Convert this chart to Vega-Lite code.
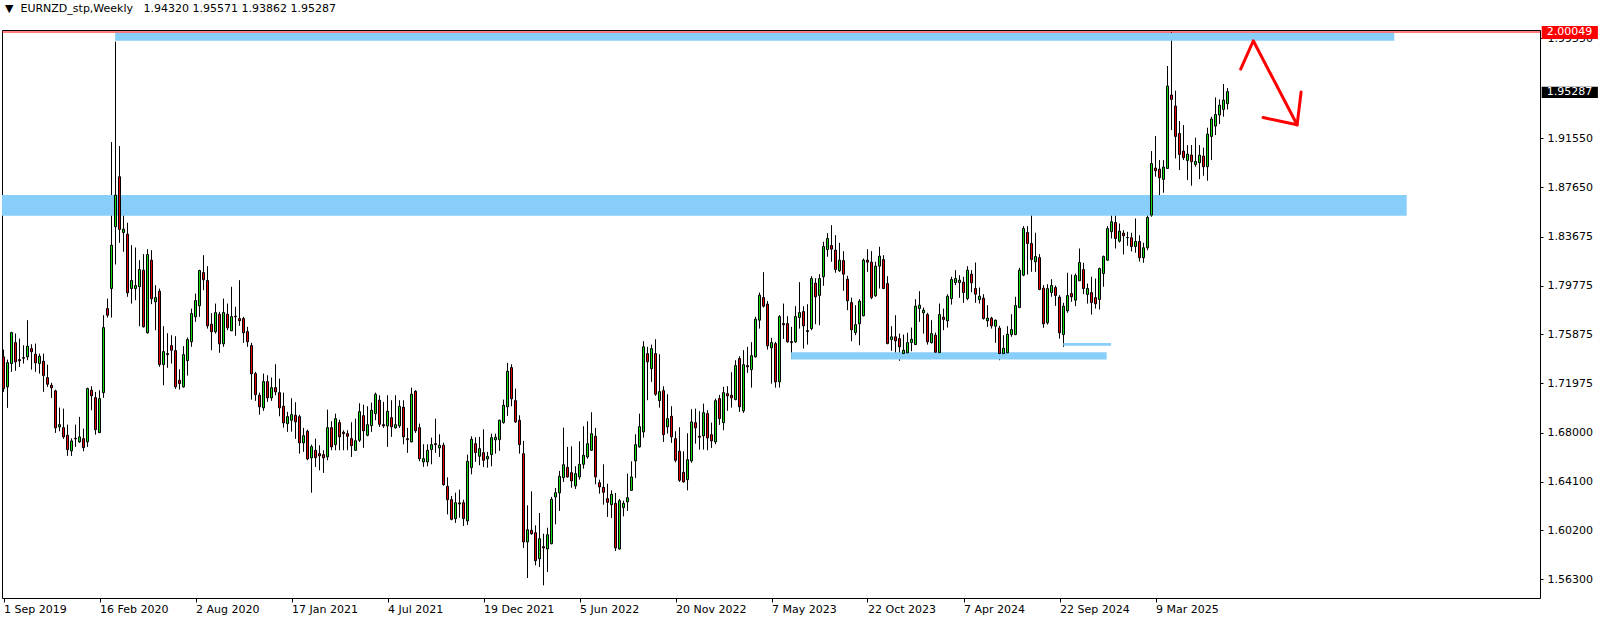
{
"$schema":"https://vega.github.io/schema/vega-lite/v6.json",
"width":1538,"height":568,
"autosize":{"type":"none"},
"padding":{"left":2,"top":30,"right":64,"bottom":24},
"background":"white",
"config":{"view":{"stroke":"black","strokeWidth":1},"font":"DejaVu Sans","scale":{"continuousPadding":0}},
"title":{"text":"▼\u00a0 EURNZD_stp,Weekly\u00a0\u00a0 1.94320 1.95571 1.93862 1.95287","anchor":"start","frame":"group","font":"DejaVu Sans","fontSize":11,"fontWeight":"normal","color":"black","offset":12,"dx":3},
"datasets":{
"candles":[
{"d":"2019-09-01","o":1.7408,"h":1.7466,"l":1.7128,"c":1.7154},
{"d":"2019-09-08","o":1.7168,"h":1.7386,"l":1.7000,"c":1.7362},
{"d":"2019-09-15","o":1.7354,"h":1.7608,"l":1.7288,"c":1.7602},
{"d":"2019-09-22","o":1.7522,"h":1.7594,"l":1.7296,"c":1.7368},
{"d":"2019-09-29","o":1.7386,"h":1.7554,"l":1.7328,"c":1.7376},
{"d":"2019-10-06","o":1.7402,"h":1.7501,"l":1.7354,"c":1.7397},
{"d":"2019-10-13","o":1.7408,"h":1.7701,"l":1.7381,"c":1.7493},
{"d":"2019-10-20","o":1.7474,"h":1.7509,"l":1.7306,"c":1.7448},
{"d":"2019-10-27","o":1.7429,"h":1.7514,"l":1.7288,"c":1.7360},
{"d":"2019-11-03","o":1.7354,"h":1.7434,"l":1.7274,"c":1.7413},
{"d":"2019-11-10","o":1.7373,"h":1.7434,"l":1.7128,"c":1.7258},
{"d":"2019-11-17","o":1.7242,"h":1.7346,"l":1.7168,"c":1.7189},
{"d":"2019-11-24","o":1.7181,"h":1.7200,"l":1.7080,"c":1.7160},
{"d":"2019-12-01","o":1.7136,"h":1.7146,"l":1.6800,"c":1.6840},
{"d":"2019-12-08","o":1.6848,"h":1.7002,"l":1.6813,"c":1.6866},
{"d":"2019-12-15","o":1.6842,"h":1.6994,"l":1.6752,"c":1.6768},
{"d":"2019-12-22","o":1.6781,"h":1.6866,"l":1.6616,"c":1.6666},
{"d":"2019-12-29","o":1.6656,"h":1.6757,"l":1.6616,"c":1.6736},
{"d":"2020-01-05","o":1.6757,"h":1.6866,"l":1.6688,"c":1.6752},
{"d":"2020-01-12","o":1.6728,"h":1.6928,"l":1.6720,"c":1.6768},
{"d":"2020-01-19","o":1.6754,"h":1.6834,"l":1.6653,"c":1.6682},
{"d":"2020-01-26","o":1.6728,"h":1.7162,"l":1.6688,"c":1.7154},
{"d":"2020-02-02","o":1.7141,"h":1.7173,"l":1.6981,"c":1.7096},
{"d":"2020-02-09","o":1.7082,"h":1.7128,"l":1.6786,"c":1.6826},
{"d":"2020-02-16","o":1.6802,"h":1.7141,"l":1.6800,"c":1.7074},
{"d":"2020-02-23","o":1.7122,"h":1.7741,"l":1.7080,"c":1.7642},
{"d":"2020-03-01","o":1.7794,"h":1.7874,"l":1.7722,"c":1.7741},
{"d":"2020-03-08","o":1.7954,"h":1.9125,"l":1.7722,"c":1.8301},
{"d":"2020-03-15","o":1.8448,"h":1.9928,"l":1.8146,"c":1.8701},
{"d":"2020-03-22","o":1.8848,"h":1.9093,"l":1.8320,"c":1.8426},
{"d":"2020-03-29","o":1.8402,"h":1.8629,"l":1.8248,"c":1.8429},
{"d":"2020-04-05","o":1.8389,"h":1.8480,"l":1.7888,"c":1.7920},
{"d":"2020-04-12","o":1.7954,"h":1.8301,"l":1.7834,"c":1.8018},
{"d":"2020-04-19","o":1.7954,"h":1.8282,"l":1.7861,"c":1.7978},
{"d":"2020-04-26","o":1.7968,"h":1.8181,"l":1.7653,"c":1.8106},
{"d":"2020-05-03","o":1.8101,"h":1.8229,"l":1.7642,"c":1.7648},
{"d":"2020-05-10","o":1.7600,"h":1.8269,"l":1.7594,"c":1.8226},
{"d":"2020-05-17","o":1.8181,"h":1.8261,"l":1.7829,"c":1.7872},
{"d":"2020-05-24","o":1.7848,"h":1.7981,"l":1.7621,"c":1.7882},
{"d":"2020-05-31","o":1.7933,"h":1.7954,"l":1.7328,"c":1.7346},
{"d":"2020-06-07","o":1.7346,"h":1.7653,"l":1.7181,"c":1.7450},
{"d":"2020-06-14","o":1.7434,"h":1.7597,"l":1.7320,"c":1.7426},
{"d":"2020-06-21","o":1.7498,"h":1.7581,"l":1.7354,"c":1.7461},
{"d":"2020-06-28","o":1.7458,"h":1.7573,"l":1.7152,"c":1.7168},
{"d":"2020-07-05","o":1.7221,"h":1.7309,"l":1.7146,"c":1.7194},
{"d":"2020-07-12","o":1.7168,"h":1.7493,"l":1.7162,"c":1.7426},
{"d":"2020-07-19","o":1.7378,"h":1.7562,"l":1.7258,"c":1.7546},
{"d":"2020-07-26","o":1.7528,"h":1.7794,"l":1.7488,"c":1.7754},
{"d":"2020-08-02","o":1.7728,"h":1.7914,"l":1.7688,"c":1.7858},
{"d":"2020-08-09","o":1.7816,"h":1.8104,"l":1.7728,"c":1.8098},
{"d":"2020-08-16","o":1.8082,"h":1.8221,"l":1.7941,"c":1.8024},
{"d":"2020-08-23","o":1.8018,"h":1.8133,"l":1.7634,"c":1.7656},
{"d":"2020-08-30","o":1.7669,"h":1.7757,"l":1.7461,"c":1.7608},
{"d":"2020-09-06","o":1.7608,"h":1.7834,"l":1.7594,"c":1.7762},
{"d":"2020-09-13","o":1.7749,"h":1.7768,"l":1.7440,"c":1.7512},
{"d":"2020-09-20","o":1.7512,"h":1.7874,"l":1.7488,"c":1.7762},
{"d":"2020-09-27","o":1.7749,"h":1.7834,"l":1.7621,"c":1.7640},
{"d":"2020-10-04","o":1.7616,"h":1.7968,"l":1.7616,"c":1.7730},
{"d":"2020-10-11","o":1.7733,"h":1.7808,"l":1.7576,"c":1.7728},
{"d":"2020-10-18","o":1.7714,"h":1.8021,"l":1.7656,"c":1.7696},
{"d":"2020-10-25","o":1.7714,"h":1.7728,"l":1.7520,"c":1.7600},
{"d":"2020-11-01","o":1.7610,"h":1.7648,"l":1.7488,"c":1.7528},
{"d":"2020-11-08","o":1.7498,"h":1.7520,"l":1.7066,"c":1.7272},
{"d":"2020-11-15","o":1.7274,"h":1.7288,"l":1.7056,"c":1.7106},
{"d":"2020-11-22","o":1.7101,"h":1.7122,"l":1.6946,"c":1.7008},
{"d":"2020-11-29","o":1.7000,"h":1.7274,"l":1.6976,"c":1.7210},
{"d":"2020-12-06","o":1.7210,"h":1.7261,"l":1.7048,"c":1.7080},
{"d":"2020-12-13","o":1.7080,"h":1.7242,"l":1.7056,"c":1.7162},
{"d":"2020-12-20","o":1.7162,"h":1.7349,"l":1.7101,"c":1.7128},
{"d":"2020-12-27","o":1.7122,"h":1.7234,"l":1.6933,"c":1.7000},
{"d":"2021-01-03","o":1.7013,"h":1.7122,"l":1.6842,"c":1.6880},
{"d":"2021-01-10","o":1.6874,"h":1.6968,"l":1.6808,"c":1.6930},
{"d":"2021-01-17","o":1.6901,"h":1.7077,"l":1.6810,"c":1.6946},
{"d":"2021-01-24","o":1.6941,"h":1.7045,"l":1.6752,"c":1.6888},
{"d":"2021-01-31","o":1.6930,"h":1.6946,"l":1.6634,"c":1.6720},
{"d":"2021-02-07","o":1.6720,"h":1.6840,"l":1.6648,"c":1.6778},
{"d":"2021-02-14","o":1.6813,"h":1.6826,"l":1.6581,"c":1.6592},
{"d":"2021-02-21","o":1.6600,"h":1.6706,"l":1.6322,"c":1.6690},
{"d":"2021-02-28","o":1.6661,"h":1.6754,"l":1.6528,"c":1.6602},
{"d":"2021-03-07","o":1.6634,"h":1.6701,"l":1.6501,"c":1.6616},
{"d":"2021-03-14","o":1.6626,"h":1.6661,"l":1.6480,"c":1.6600},
{"d":"2021-03-21","o":1.6608,"h":1.6986,"l":1.6581,"c":1.6842},
{"d":"2021-03-28","o":1.6842,"h":1.6893,"l":1.6661,"c":1.6688},
{"d":"2021-04-04","o":1.6706,"h":1.6954,"l":1.6661,"c":1.6914},
{"d":"2021-04-11","o":1.6882,"h":1.6906,"l":1.6661,"c":1.6768},
{"d":"2021-04-18","o":1.6805,"h":1.6821,"l":1.6661,"c":1.6794},
{"d":"2021-04-25","o":1.6794,"h":1.6821,"l":1.6661,"c":1.6773},
{"d":"2021-05-02","o":1.6754,"h":1.6885,"l":1.6608,"c":1.6698},
{"d":"2021-05-09","o":1.6661,"h":1.6914,"l":1.6656,"c":1.6738},
{"d":"2021-05-16","o":1.6741,"h":1.7037,"l":1.6728,"c":1.6970},
{"d":"2021-05-23","o":1.6938,"h":1.7026,"l":1.6680,"c":1.6816},
{"d":"2021-05-30","o":1.6781,"h":1.7013,"l":1.6773,"c":1.6866},
{"d":"2021-06-06","o":1.6858,"h":1.7042,"l":1.6808,"c":1.6981},
{"d":"2021-06-13","o":1.6954,"h":1.7122,"l":1.6901,"c":1.7109},
{"d":"2021-06-20","o":1.7061,"h":1.7101,"l":1.6848,"c":1.6869},
{"d":"2021-06-27","o":1.6866,"h":1.7048,"l":1.6840,"c":1.6856},
{"d":"2021-07-04","o":1.6856,"h":1.7101,"l":1.6688,"c":1.6973},
{"d":"2021-07-11","o":1.6922,"h":1.7061,"l":1.6768,"c":1.6848},
{"d":"2021-07-18","o":1.6840,"h":1.7101,"l":1.6834,"c":1.6866},
{"d":"2021-07-25","o":1.6856,"h":1.7061,"l":1.6840,"c":1.7013},
{"d":"2021-08-01","o":1.7005,"h":1.7061,"l":1.6709,"c":1.6768},
{"d":"2021-08-08","o":1.6754,"h":1.6840,"l":1.6640,"c":1.6746},
{"d":"2021-08-15","o":1.6728,"h":1.7162,"l":1.6725,"c":1.7109},
{"d":"2021-08-22","o":1.7133,"h":1.7141,"l":1.6800,"c":1.6816},
{"d":"2021-08-29","o":1.6842,"h":1.6874,"l":1.6573,"c":1.6594},
{"d":"2021-09-05","o":1.6568,"h":1.6709,"l":1.6528,"c":1.6594},
{"d":"2021-09-12","o":1.6568,"h":1.6709,"l":1.6533,"c":1.6661},
{"d":"2021-09-19","o":1.6666,"h":1.6762,"l":1.6549,"c":1.6706},
{"d":"2021-09-26","o":1.6714,"h":1.6914,"l":1.6640,"c":1.6706},
{"d":"2021-10-03","o":1.6680,"h":1.6789,"l":1.6608,"c":1.6701},
{"d":"2021-10-10","o":1.6701,"h":1.6722,"l":1.6378,"c":1.6386},
{"d":"2021-10-17","o":1.6373,"h":1.6445,"l":1.6149,"c":1.6266},
{"d":"2021-10-24","o":1.6266,"h":1.6296,"l":1.6101,"c":1.6109},
{"d":"2021-10-31","o":1.6114,"h":1.6322,"l":1.6080,"c":1.6242},
{"d":"2021-11-07","o":1.6240,"h":1.6346,"l":1.6122,"c":1.6232},
{"d":"2021-11-14","o":1.6242,"h":1.6266,"l":1.6056,"c":1.6114},
{"d":"2021-11-21","o":1.6096,"h":1.6626,"l":1.6064,"c":1.6573},
{"d":"2021-11-28","o":1.6522,"h":1.6773,"l":1.6469,"c":1.6749},
{"d":"2021-12-05","o":1.6714,"h":1.6765,"l":1.6568,"c":1.6642},
{"d":"2021-12-12","o":1.6613,"h":1.6768,"l":1.6541,"c":1.6674},
{"d":"2021-12-19","o":1.6642,"h":1.6829,"l":1.6528,"c":1.6581},
{"d":"2021-12-26","o":1.6592,"h":1.6648,"l":1.6522,"c":1.6613},
{"d":"2022-01-02","o":1.6626,"h":1.6794,"l":1.6533,"c":1.6762},
{"d":"2022-01-09","o":1.6744,"h":1.6794,"l":1.6634,"c":1.6765},
{"d":"2022-01-16","o":1.6746,"h":1.6906,"l":1.6656,"c":1.6901},
{"d":"2022-01-23","o":1.6882,"h":1.7066,"l":1.6874,"c":1.7021},
{"d":"2022-01-30","o":1.7008,"h":1.7360,"l":1.6936,"c":1.7293},
{"d":"2022-02-06","o":1.7322,"h":1.7349,"l":1.7013,"c":1.7072},
{"d":"2022-02-13","o":1.7058,"h":1.7154,"l":1.6880,"c":1.6888},
{"d":"2022-02-20","o":1.6901,"h":1.6941,"l":1.6634,"c":1.6706},
{"d":"2022-02-27","o":1.6634,"h":1.6736,"l":1.5880,"c":1.5928},
{"d":"2022-03-06","o":1.5928,"h":1.6221,"l":1.5640,"c":1.6026},
{"d":"2022-03-13","o":1.6021,"h":1.6333,"l":1.5986,"c":1.5994},
{"d":"2022-03-20","o":1.6002,"h":1.6061,"l":1.5741,"c":1.5778},
{"d":"2022-03-27","o":1.5794,"h":1.6160,"l":1.5728,"c":1.5954},
{"d":"2022-04-03","o":1.5890,"h":1.5994,"l":1.5581,"c":1.5880},
{"d":"2022-04-10","o":1.5872,"h":1.6042,"l":1.5688,"c":1.5986},
{"d":"2022-04-17","o":1.5914,"h":1.6288,"l":1.5909,"c":1.6269},
{"d":"2022-04-24","o":1.6288,"h":1.6360,"l":1.6069,"c":1.6322},
{"d":"2022-05-01","o":1.6320,"h":1.6496,"l":1.6176,"c":1.6453},
{"d":"2022-05-08","o":1.6442,"h":1.6842,"l":1.6408,"c":1.6546},
{"d":"2022-05-15","o":1.6525,"h":1.6688,"l":1.6442,"c":1.6448},
{"d":"2022-05-22","o":1.6482,"h":1.6693,"l":1.6362,"c":1.6416},
{"d":"2022-05-29","o":1.6376,"h":1.6533,"l":1.6352,"c":1.6474},
{"d":"2022-06-05","o":1.6448,"h":1.6733,"l":1.6426,"c":1.6549},
{"d":"2022-06-12","o":1.6549,"h":1.6853,"l":1.6514,"c":1.6621},
{"d":"2022-06-19","o":1.6608,"h":1.6893,"l":1.6594,"c":1.6714},
{"d":"2022-06-26","o":1.6661,"h":1.6965,"l":1.6656,"c":1.6794},
{"d":"2022-07-03","o":1.6773,"h":1.6840,"l":1.6389,"c":1.6448},
{"d":"2022-07-10","o":1.6402,"h":1.6426,"l":1.6314,"c":1.6368},
{"d":"2022-07-17","o":1.6365,"h":1.6549,"l":1.6226,"c":1.6325},
{"d":"2022-07-24","o":1.6274,"h":1.6394,"l":1.6128,"c":1.6245},
{"d":"2022-07-31","o":1.6226,"h":1.6341,"l":1.6120,"c":1.6309},
{"d":"2022-08-07","o":1.6237,"h":1.6320,"l":1.5856,"c":1.5880},
{"d":"2022-08-14","o":1.5872,"h":1.6272,"l":1.5866,"c":1.6258},
{"d":"2022-08-21","o":1.6202,"h":1.6258,"l":1.6133,"c":1.6237},
{"d":"2022-08-28","o":1.6248,"h":1.6474,"l":1.6176,"c":1.6282},
{"d":"2022-09-04","o":1.6341,"h":1.6573,"l":1.6336,"c":1.6448},
{"d":"2022-09-11","o":1.6576,"h":1.6789,"l":1.6440,"c":1.6706},
{"d":"2022-09-18","o":1.6688,"h":1.6954,"l":1.6682,"c":1.6850},
{"d":"2022-09-25","o":1.6808,"h":1.7533,"l":1.6762,"c":1.7488},
{"d":"2022-10-02","o":1.7434,"h":1.7488,"l":1.7061,"c":1.7368},
{"d":"2022-10-09","o":1.7314,"h":1.7506,"l":1.7208,"c":1.7474},
{"d":"2022-10-16","o":1.7434,"h":1.7549,"l":1.7096,"c":1.7109},
{"d":"2022-10-23","o":1.7058,"h":1.7429,"l":1.7002,"c":1.7130},
{"d":"2022-10-30","o":1.7138,"h":1.7173,"l":1.6728,"c":1.6786},
{"d":"2022-11-06","o":1.6848,"h":1.7109,"l":1.6794,"c":1.6914},
{"d":"2022-11-13","o":1.6933,"h":1.7013,"l":1.6720,"c":1.6768},
{"d":"2022-11-20","o":1.6754,"h":1.6813,"l":1.6565,"c":1.6581},
{"d":"2022-11-27","o":1.6653,"h":1.6845,"l":1.6408,"c":1.6421},
{"d":"2022-12-04","o":1.6485,"h":1.6653,"l":1.6402,"c":1.6408},
{"d":"2022-12-11","o":1.6426,"h":1.6797,"l":1.6341,"c":1.6586},
{"d":"2022-12-18","o":1.6576,"h":1.6989,"l":1.6562,"c":1.6888},
{"d":"2022-12-25","o":1.6882,"h":1.6994,"l":1.6714,"c":1.6840},
{"d":"2023-01-01","o":1.6773,"h":1.6973,"l":1.6666,"c":1.6765},
{"d":"2023-01-08","o":1.6776,"h":1.7034,"l":1.6666,"c":1.6962},
{"d":"2023-01-15","o":1.6954,"h":1.6981,"l":1.6661,"c":1.6760},
{"d":"2023-01-22","o":1.6786,"h":1.6882,"l":1.6680,"c":1.6736},
{"d":"2023-01-29","o":1.6728,"h":1.7074,"l":1.6709,"c":1.7058},
{"d":"2023-02-05","o":1.7074,"h":1.7104,"l":1.6864,"c":1.6914},
{"d":"2023-02-12","o":1.6882,"h":1.7168,"l":1.6821,"c":1.7122},
{"d":"2023-02-19","o":1.7114,"h":1.7173,"l":1.6976,"c":1.7096},
{"d":"2023-02-26","o":1.7101,"h":1.7285,"l":1.7002,"c":1.7080},
{"d":"2023-03-05","o":1.7066,"h":1.7381,"l":1.7061,"c":1.7338},
{"d":"2023-03-12","o":1.7394,"h":1.7413,"l":1.6968,"c":1.7008},
{"d":"2023-03-19","o":1.6976,"h":1.7461,"l":1.6960,"c":1.7346},
{"d":"2023-03-26","o":1.7338,"h":1.7488,"l":1.7280,"c":1.7328},
{"d":"2023-04-02","o":1.7306,"h":1.7525,"l":1.7162,"c":1.7418},
{"d":"2023-04-09","o":1.7408,"h":1.7728,"l":1.7402,"c":1.7709},
{"d":"2023-04-16","o":1.7701,"h":1.7922,"l":1.7634,"c":1.7901},
{"d":"2023-04-23","o":1.7882,"h":1.8085,"l":1.7802,"c":1.7813},
{"d":"2023-04-30","o":1.7829,"h":1.7853,"l":1.7466,"c":1.7496},
{"d":"2023-05-07","o":1.7480,"h":1.7560,"l":1.7194,"c":1.7522},
{"d":"2023-05-14","o":1.7514,"h":1.7528,"l":1.7162,"c":1.7208},
{"d":"2023-05-21","o":1.7208,"h":1.7741,"l":1.7162,"c":1.7730},
{"d":"2023-05-28","o":1.7674,"h":1.7834,"l":1.7552,"c":1.7664},
{"d":"2023-06-04","o":1.7674,"h":1.7733,"l":1.7522,"c":1.7528},
{"d":"2023-06-11","o":1.7530,"h":1.7648,"l":1.7392,"c":1.7522},
{"d":"2023-06-18","o":1.7528,"h":1.7813,"l":1.7520,"c":1.7730},
{"d":"2023-06-25","o":1.7722,"h":1.8005,"l":1.7634,"c":1.7762},
{"d":"2023-07-02","o":1.7770,"h":1.7813,"l":1.7474,"c":1.7656},
{"d":"2023-07-09","o":1.7618,"h":1.7829,"l":1.7506,"c":1.7610},
{"d":"2023-07-16","o":1.7634,"h":1.8053,"l":1.7621,"c":1.8034},
{"d":"2023-07-23","o":1.7997,"h":1.8037,"l":1.7669,"c":1.7888},
{"d":"2023-07-30","o":1.7898,"h":1.8069,"l":1.7661,"c":1.8034},
{"d":"2023-08-06","o":1.8048,"h":1.8328,"l":1.7976,"c":1.8290},
{"d":"2023-08-13","o":1.8266,"h":1.8397,"l":1.8208,"c":1.8354},
{"d":"2023-08-20","o":1.8298,"h":1.8461,"l":1.8168,"c":1.8269},
{"d":"2023-08-27","o":1.8261,"h":1.8381,"l":1.8080,"c":1.8106},
{"d":"2023-09-03","o":1.8096,"h":1.8320,"l":1.8088,"c":1.8181},
{"d":"2023-09-10","o":1.8178,"h":1.8253,"l":1.7936,"c":1.8069},
{"d":"2023-09-17","o":1.8029,"h":1.8056,"l":1.7781,"c":1.7856},
{"d":"2023-09-24","o":1.7842,"h":1.7882,"l":1.7533,"c":1.7624},
{"d":"2023-10-01","o":1.7602,"h":1.7821,"l":1.7581,"c":1.7666},
{"d":"2023-10-08","o":1.7672,"h":1.7869,"l":1.7501,"c":1.7853},
{"d":"2023-10-15","o":1.7736,"h":1.8194,"l":1.7733,"c":1.8181},
{"d":"2023-10-22","o":1.8181,"h":1.8269,"l":1.8088,"c":1.8165},
{"d":"2023-10-29","o":1.8165,"h":1.8253,"l":1.7869,"c":1.7882},
{"d":"2023-11-05","o":1.7896,"h":1.8168,"l":1.7888,"c":1.8133},
{"d":"2023-11-12","o":1.8133,"h":1.8288,"l":1.7954,"c":1.8213},
{"d":"2023-11-19","o":1.8186,"h":1.8221,"l":1.7949,"c":1.7954},
{"d":"2023-11-26","o":1.7994,"h":1.8053,"l":1.7509,"c":1.7514},
{"d":"2023-12-03","o":1.7546,"h":1.7653,"l":1.7456,"c":1.7568},
{"d":"2023-12-10","o":1.7568,"h":1.7741,"l":1.7413,"c":1.7536},
{"d":"2023-12-17","o":1.7554,"h":1.7594,"l":1.7376,"c":1.7488},
{"d":"2023-12-24","o":1.7434,"h":1.7586,"l":1.7408,"c":1.7461},
{"d":"2023-12-31","o":1.7440,"h":1.7600,"l":1.7402,"c":1.7522},
{"d":"2024-01-07","o":1.7522,"h":1.7642,"l":1.7453,"c":1.7549},
{"d":"2024-01-14","o":1.7506,"h":1.7869,"l":1.7506,"c":1.7813},
{"d":"2024-01-21","o":1.7794,"h":1.7933,"l":1.7688,"c":1.7821},
{"d":"2024-01-28","o":1.7760,"h":1.7802,"l":1.7594,"c":1.7781},
{"d":"2024-02-04","o":1.7746,"h":1.7760,"l":1.7506,"c":1.7528},
{"d":"2024-02-11","o":1.7522,"h":1.7701,"l":1.7514,"c":1.7594},
{"d":"2024-02-18","o":1.7581,"h":1.7602,"l":1.7440,"c":1.7445},
{"d":"2024-02-25","o":1.7442,"h":1.7834,"l":1.7440,"c":1.7746},
{"d":"2024-03-03","o":1.7725,"h":1.7794,"l":1.7621,"c":1.7706},
{"d":"2024-03-10","o":1.7696,"h":1.7909,"l":1.7642,"c":1.7893},
{"d":"2024-03-17","o":1.7874,"h":1.8048,"l":1.7826,"c":1.8026},
{"d":"2024-03-24","o":1.8002,"h":1.8101,"l":1.7981,"c":1.8034},
{"d":"2024-03-31","o":1.8002,"h":1.8061,"l":1.7880,"c":1.8021},
{"d":"2024-04-07","o":1.8005,"h":1.8048,"l":1.7840,"c":1.7922},
{"d":"2024-04-14","o":1.7874,"h":1.8133,"l":1.7861,"c":1.8101},
{"d":"2024-04-21","o":1.8069,"h":1.8101,"l":1.7925,"c":1.8000},
{"d":"2024-04-28","o":1.7954,"h":1.8162,"l":1.7840,"c":1.7909},
{"d":"2024-05-05","o":1.7866,"h":1.7962,"l":1.7834,"c":1.7893},
{"d":"2024-05-12","o":1.7877,"h":1.7909,"l":1.7706,"c":1.7714},
{"d":"2024-05-19","o":1.7696,"h":1.7821,"l":1.7648,"c":1.7717},
{"d":"2024-05-26","o":1.7717,"h":1.7728,"l":1.7634,"c":1.7656},
{"d":"2024-06-02","o":1.7653,"h":1.7706,"l":1.7520,"c":1.7701},
{"d":"2024-06-09","o":1.7637,"h":1.7656,"l":1.7381,"c":1.7434},
{"d":"2024-06-16","o":1.7434,"h":1.7581,"l":1.7421,"c":1.7477},
{"d":"2024-06-23","o":1.7440,"h":1.7653,"l":1.7434,"c":1.7589},
{"d":"2024-06-30","o":1.7586,"h":1.7749,"l":1.7568,"c":1.7626},
{"d":"2024-07-07","o":1.7586,"h":1.7888,"l":1.7581,"c":1.7818},
{"d":"2024-07-14","o":1.7802,"h":1.8120,"l":1.7797,"c":1.8101},
{"d":"2024-07-21","o":1.8061,"h":1.8453,"l":1.8053,"c":1.8434},
{"d":"2024-07-28","o":1.8402,"h":1.8453,"l":1.8066,"c":1.8314},
{"d":"2024-08-04","o":1.8314,"h":1.8653,"l":1.8088,"c":1.8186},
{"d":"2024-08-11","o":1.8168,"h":1.8400,"l":1.8088,"c":1.8210},
{"d":"2024-08-18","o":1.8202,"h":1.8229,"l":1.7941,"c":1.7946},
{"d":"2024-08-25","o":1.7957,"h":1.7981,"l":1.7640,"c":1.7672},
{"d":"2024-09-01","o":1.7680,"h":1.7989,"l":1.7666,"c":1.7954},
{"d":"2024-09-08","o":1.7922,"h":1.8029,"l":1.7888,"c":1.7978},
{"d":"2024-09-15","o":1.7962,"h":1.7978,"l":1.7816,"c":1.7898},
{"d":"2024-09-22","o":1.7885,"h":1.7901,"l":1.7554,"c":1.7600},
{"d":"2024-09-29","o":1.7586,"h":1.7840,"l":1.7488,"c":1.7813},
{"d":"2024-10-06","o":1.7776,"h":1.8080,"l":1.7760,"c":1.7898},
{"d":"2024-10-13","o":1.7914,"h":1.8066,"l":1.7848,"c":1.7888},
{"d":"2024-10-20","o":1.7861,"h":1.8074,"l":1.7813,"c":1.8058},
{"d":"2024-10-27","o":1.8016,"h":1.8274,"l":1.8016,"c":1.8162},
{"d":"2024-11-03","o":1.8106,"h":1.8160,"l":1.7909,"c":1.7954},
{"d":"2024-11-10","o":1.7906,"h":1.7994,"l":1.7834,"c":1.7954},
{"d":"2024-11-17","o":1.7922,"h":1.8048,"l":1.7746,"c":1.7842},
{"d":"2024-11-24","o":1.7882,"h":1.8034,"l":1.7794,"c":1.7832},
{"d":"2024-12-01","o":1.7866,"h":1.8122,"l":1.7786,"c":1.8114},
{"d":"2024-12-08","o":1.8074,"h":1.8218,"l":1.7968,"c":1.8210},
{"d":"2024-12-15","o":1.8181,"h":1.8453,"l":1.8178,"c":1.8434},
{"d":"2024-12-22","o":1.8408,"h":1.8541,"l":1.8354,"c":1.8488},
{"d":"2024-12-29","o":1.8482,"h":1.8541,"l":1.8274,"c":1.8354},
{"d":"2025-01-05","o":1.8333,"h":1.8474,"l":1.8322,"c":1.8413},
{"d":"2025-01-12","o":1.8397,"h":1.8421,"l":1.8226,"c":1.8376},
{"d":"2025-01-19","o":1.8362,"h":1.8408,"l":1.8296,"c":1.8360},
{"d":"2025-01-26","o":1.8360,"h":1.8400,"l":1.8250,"c":1.8290},
{"d":"2025-02-02","o":1.8290,"h":1.8514,"l":1.8240,"c":1.8330},
{"d":"2025-02-09","o":1.8330,"h":1.8380,"l":1.8170,"c":1.8200},
{"d":"2025-02-16","o":1.8200,"h":1.8320,"l":1.8160,"c":1.8280},
{"d":"2025-02-23","o":1.8280,"h":1.8594,"l":1.8260,"c":1.8522},
{"d":"2025-03-02","o":1.8541,"h":1.9053,"l":1.8528,"c":1.8954},
{"d":"2025-03-09","o":1.8917,"h":1.9173,"l":1.8848,"c":1.8896},
{"d":"2025-03-16","o":1.8909,"h":1.8981,"l":1.8688,"c":1.8840},
{"d":"2025-03-23","o":1.8826,"h":1.8981,"l":1.8720,"c":1.8925},
{"d":"2025-03-30","o":1.8914,"h":1.9733,"l":1.8914,"c":1.9573},
{"d":"2025-04-06","o":1.9501,"h":2.0005,"l":1.9221,"c":1.9466},
{"d":"2025-04-13","o":1.9413,"h":1.9536,"l":1.8994,"c":1.9170},
{"d":"2025-04-20","o":1.9194,"h":1.9293,"l":1.8901,"c":1.9026},
{"d":"2025-04-27","o":1.9053,"h":1.9261,"l":1.8981,"c":1.9000},
{"d":"2025-05-04","o":1.8978,"h":1.9101,"l":1.8821,"c":1.9029},
{"d":"2025-05-11","o":1.9021,"h":1.9101,"l":1.8776,"c":1.8968},
{"d":"2025-05-18","o":1.8946,"h":1.9160,"l":1.8928,"c":1.8970},
{"d":"2025-05-25","o":1.8960,"h":1.9101,"l":1.8829,"c":1.9021},
{"d":"2025-06-01","o":1.9013,"h":1.9080,"l":1.8856,"c":1.8928},
{"d":"2025-06-08","o":1.8928,"h":1.9240,"l":1.8816,"c":1.9189},
{"d":"2025-06-15","o":1.9170,"h":1.9328,"l":1.8981,"c":1.9309},
{"d":"2025-06-22","o":1.9253,"h":1.9482,"l":1.9181,"c":1.9346},
{"d":"2025-06-29","o":1.9341,"h":1.9466,"l":1.9269,"c":1.9421},
{"d":"2025-07-06","o":1.9386,"h":1.9589,"l":1.9328,"c":1.9461},
{"d":"2025-07-13","o":1.9432,"h":1.95571,"l":1.93862,"c":1.95287}
],
"zones":[
{"x1":"2020-03-14T08:00:00Z","x2":"2026-04-30T22:00:00Z","y1":1.9935,"y2":2.0000},
{"x1":"2019-08-29T09:00:00Z","x2":"2026-05-22T14:00:00Z","y1":1.85365,"y2":1.8702},
{"x1":"2023-06-10T07:00:00Z","x2":"2024-12-13T14:00:00Z","y1":1.7387,"y2":1.74445},
{"x1":"2024-09-28T16:00:00Z","x2":"2024-12-21T07:00:00Z","y1":1.7497,"y2":1.7519}
],
"level":[{"p":2.00049}],
"arrow":[
{"seg":"a","k":1,"d":"2025-08-05T02:00:00Z","p":1.9709},
{"seg":"a","k":2,"d":"2025-08-27T04:00:00Z","p":1.9935},
{"seg":"a","k":3,"d":"2025-11-11T19:00:00Z","p":1.9263},
{"seg":"b","k":1,"d":"2025-09-13T07:00:00Z","p":1.9321},
{"seg":"b","k":2,"d":"2025-11-11T19:00:00Z","p":1.9263},
{"seg":"b","k":3,"d":"2025-11-18T19:00:00Z","p":1.9525}
],
"tags":[
{"x1":"2027-01-13T20:00:00Z","x2":"2027-04-22T05:00:00Z","tx":"2027-01-22T14:00:00Z","y1":1.9949,"y2":2.0053,"p":2.00049,"label":"2.00049","bg":"#ff0000"},
{"x1":"2027-01-13T20:00:00Z","x2":"2027-04-22T05:00:00Z","tx":"2027-01-22T14:00:00Z","y1":1.9477,"y2":1.9567,"p":1.95287,"label":"1.95287","bg":"#000000"}
]
},
"layer":[
{"data":{"name":"candles"},
 "mark":{"type":"rule","color":"black","strokeWidth":1},
 "encoding":{
  "x":{"field":"d","type":"temporal","title":null,
   "scale":{"type":"utc","nice":false,"padding":0,"domain":[{"year":2019,"month":8,"date":29,"hours":9,"utc":true},{"year":2027,"month":1,"date":10,"hours":21,"utc":true}]},
   "axis":{"orient":"bottom","values":[{"year":2019,"month":9,"date":1,"utc":true},{"year":2020,"month":2,"date":16,"utc":true},{"year":2020,"month":8,"date":2,"utc":true},{"year":2021,"month":1,"date":17,"utc":true},{"year":2021,"month":7,"date":4,"utc":true},{"year":2021,"month":12,"date":19,"utc":true},{"year":2022,"month":6,"date":5,"utc":true},{"year":2022,"month":11,"date":20,"utc":true},{"year":2023,"month":5,"date":7,"utc":true},{"year":2023,"month":10,"date":22,"utc":true},{"year":2024,"month":4,"date":7,"utc":true},{"year":2024,"month":9,"date":22,"utc":true},{"year":2025,"month":3,"date":9,"utc":true}],
    "labelExpr":"utcFormat(datum.value, '%-d %b %Y')","labelAlign":"left","labelBaseline":"top","labelFlush":false,"labelOverlap":false,"labelBound":false,
    "labelFont":"DejaVu Sans","labelFontSize":11,"labelColor":"black","tickColor":"black","tickSize":4,"labelPadding":1,"domain":false,"grid":false}},
  "y":{"field":"l","type":"quantitative","title":null,
   "scale":{"domain":[1.548,2.0021],"nice":false,"zero":false,"padding":0},
   "axis":{"orient":"right","values":[1.563,1.602,1.641,1.68,1.71975,1.75875,1.79775,1.83675,1.8765,1.9155,1.9955],"format":".5f","labelAlign":"left","labelBaseline":"middle","labelFont":"DejaVu Sans","labelFontSize":11,"labelColor":"black","tickColor":"black","tickSize":3,"labelPadding":4,"domain":false,"grid":false,"labelOverlap":false,"labelFlush":false}},
  "y2":{"field":"h"}
 }},
{"data":{"name":"zones"},
 "mark":{"type":"rect","color":"#87cefa","clip":true},
 "encoding":{
  "x":{"field":"x1","type":"temporal","title":null},
  "x2":{"field":"x2"},
  "y":{"field":"y1","type":"quantitative","title":null},
  "y2":{"field":"y2"}
 }},
{"data":{"name":"level"},
 "mark":{"type":"rule","color":"#ff0000","strokeWidth":1},
 "encoding":{"y":{"field":"p","type":"quantitative","title":null}}},
{"data":{"name":"candles"},
 "mark":{"type":"bar","size":2,"stroke":"black","strokeWidth":1},
 "encoding":{
  "x":{"field":"d","type":"temporal","title":null},
  "y":{"field":"o","type":"quantitative","title":null},
  "y2":{"field":"c"},
  "fill":{"condition":{"test":"datum.c >= datum.o","value":"#10dd10"},"value":"#e60000"}
 }},
{"data":{"name":"arrow"},
 "mark":{"type":"line","color":"#ff0000","strokeWidth":3,"strokeCap":"round","strokeJoin":"round"},
 "encoding":{
  "x":{"field":"d","type":"temporal","title":null},
  "y":{"field":"p","type":"quantitative","title":null},
  "detail":{"field":"seg"},
  "order":{"field":"k","type":"quantitative"}
 }},
{"data":{"name":"tags"},
 "mark":{"type":"rect","clip":false},
 "encoding":{
  "x":{"field":"x1","type":"temporal","title":null},
  "x2":{"field":"x2"},
  "y":{"field":"y1","type":"quantitative","title":null},
  "y2":{"field":"y2"},
  "color":{"field":"bg","type":"nominal","scale":null,"legend":null}
 }},
{"data":{"name":"tags"},
 "mark":{"type":"text","color":"white","align":"left","baseline":"middle","font":"DejaVu Sans","fontSize":11,"clip":false},
 "encoding":{
  "x":{"field":"tx","type":"temporal","title":null},
  "y":{"field":"p","type":"quantitative","title":null},
  "text":{"field":"label"}
 }}
]
}
